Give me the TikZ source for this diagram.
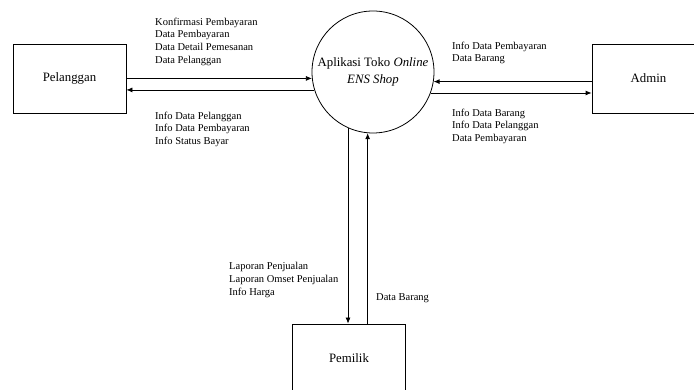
\documentclass[tikz,border=0pt]{standalone}
\usepackage{fontspec}
\setmainfont{Liberation Serif}
\usetikzlibrary{arrows.meta}

\begin{document}
\begin{tikzpicture}[x=1pt,y=1pt,
            entitas/.style={draw,line width=0.8pt,minimum width=113pt,minimum height=69pt,
                font=\fontsize{12.8}{15}\selectfont},
            proses/.style={draw,circle,line width=0.8pt,minimum size=122pt,inner sep=0pt,
                align=center,font=\fontsize{12.8}{17}\selectfont},
            aliran/.style={line width=0.8pt,-{Latex[length=6pt,width=5pt]}},
            ket/.style={anchor=north west,inner sep=0pt,align=left,
                font=\fontsize{10.5}{12.7}\selectfont}]
            \useasboundingbox (0,0) rectangle (694,390);
            \clip (0,0) rectangle (694,390);

            \node[entitas] (pelanggan) at (69.5,311.5) {Pelanggan};
            \node[entitas] (admin) at (648.5,311.5) {Admin};
            \node[entitas] (pemilik) at (349,31.5) {Pemilik};
            \node[proses] (aplikasi) at (373,318) {Aplikasi Toko \textit{Online}\\\textit{ENS Shop}};

            \draw[aliran] (aplikasi.186.6 -| pelanggan.east) -- (aplikasi.186.6);
            \draw[aliran] (aplikasi.197.2) -- (aplikasi.197.2 -| pelanggan.east);
            \draw[aliran] (aplikasi.351.5 -| admin.west) -- (aplikasi.351.5);
            \draw[aliran] (aplikasi.340) -- (aplikasi.340 -| admin.west);
            \draw[aliran] (aplikasi.246.8) -- (aplikasi.246.8 |- pemilik.north);
            \draw[aliran] (aplikasi.265.3 |- pemilik.north) -- (aplikasi.265.3);

            \node[ket] (ketA) at (155,372.5) {Konfirmasi Pembayaran\\Data Pembayaran\\Data Detail Pemesanan\\Data Pelanggan};
            \node[ket] (ketB) at (155,278.5) {Info Data Pelanggan\\Info Data Pembayaran\\Info Status Bayar};
            \node[ket] (ketC) at (452,348.5) {Info Data Pembayaran\\Data Barang};
            \node[ket] (ketD) at (452,281.5) {Info Data Barang\\Info Data Pelanggan\\Data Pembayaran};
            \node[ket] (ketE) at (229,127.5) {Laporan Penjualan\\Laporan Omset Penjualan\\Info Harga};
            \node[ket] (ketF) at (376,96.5) {Data Barang};
        \end{tikzpicture}
\end{document}
